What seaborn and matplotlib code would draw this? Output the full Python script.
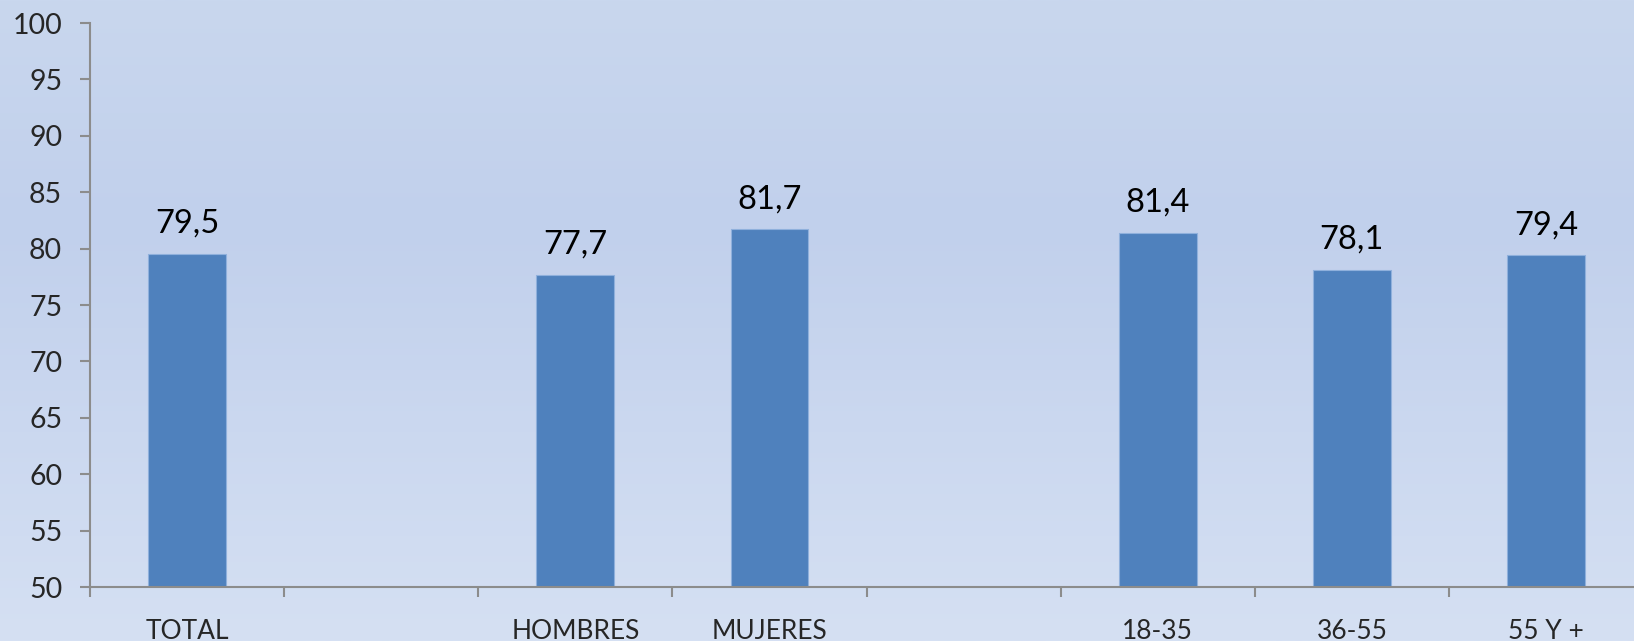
import numpy as np
import matplotlib
matplotlib.use("Agg")
import matplotlib.pyplot as plt
from matplotlib.colors import LinearSegmentedColormap
from matplotlib.ticker import FixedLocator
import seaborn as sns

# data
categories = ["TOTAL", " ", "HOMBRES", "MUJERES", "  ", "18-35", "36-55", "55 Y +"]
bar_cats = ["TOTAL", "HOMBRES", "MUJERES", "18-35", "36-55", "55 Y +"]
bar_vals = [79.5, 77.7, 81.7, 81.4, 78.1, 79.4]
yticks = list(range(50, 101, 5))

sns.set_style("white")
plt.rcParams["font.family"] = ["Lato", "DejaVu Sans"]

fig = plt.figure(figsize=(16.34, 6.41), dpi=100)

# background gradient
bg = fig.add_axes([0, 0, 1, 1], zorder=-10)
cmap = LinearSegmentedColormap.from_list(
    "bg", [(0.0, "#c9d7ee"), (0.35, "#c1d0ec"), (1.0, "#d5e0f3")])
grad = np.linspace(0, 1, 256).reshape(-1, 1)
bg.imshow(grad, aspect="auto", cmap=cmap, extent=[0, 1, 0, 1], origin="upper")
bg.set_axis_off()

ax = fig.add_axes([90 / 1634, 54 / 641, 1553 / 1634, 564 / 641])
ax.patch.set_alpha(0)

sns.barplot(x=bar_cats, y=bar_vals, order=categories, width=0.4,
            color="#4f81bd", saturation=1, edgecolor="#8fb0dc",
            linewidth=0.8, ax=ax)

ax.set_ylim(50, 100)
ax.set_xlim(-0.5, len(categories) - 0.5)
ax.set_yticks(yticks)

for i, c in enumerate(categories):
    if c in bar_cats:
        v = bar_vals[bar_cats.index(c)]
        ax.annotate(f"{v:.1f}".replace(".", ","), (i, v), xytext=(0, 11),
                    textcoords="offset points", ha="center", va="bottom",
                    fontsize=23.5, color="black")

for s in ["top", "right"]:
    ax.spines[s].set_visible(False)
for s in ["left", "bottom"]:
    ax.spines[s].set_color("#8c8c8c")
    ax.spines[s].set_linewidth(1.5)

ax.tick_params(axis="y", length=7, width=1.5, color="#8c8c8c",
               labelsize=20.5, pad=13, left=True)
ax.tick_params(axis="x", which="major", length=0, labelsize=19, pad=23)
ax.xaxis.set_minor_locator(FixedLocator(np.arange(-0.5, len(categories), 1)))
ax.tick_params(axis="x", which="minor", length=7, width=1.5,
               color="#8c8c8c", bottom=True)
ax.set_xlabel("")
ax.set_ylabel("")

fig.savefig("out.png", dpi=100)
